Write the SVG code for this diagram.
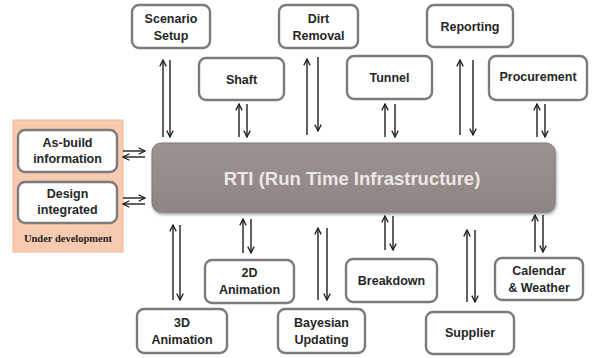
<svg xmlns="http://www.w3.org/2000/svg" width="593" height="358" viewBox="0 0 593 358">
<style>
.box{fill:#fff;stroke:#7b7b7b;stroke-width:2.4}
.t{font-family:"Liberation Sans",Arial,sans-serif;font-weight:bold;font-size:12.5px;fill:#262626;text-anchor:middle}
.ln{stroke:#1e1e1e;stroke-width:1.4;fill:none}
</style>
<defs>
<marker id="ah" viewBox="0 0 10 10" refX="9" refY="5" markerWidth="8" markerHeight="8" orient="auto" markerUnits="userSpaceOnUse">
<path d="M1,1 L9,5 L1,9" fill="none" stroke="#1e1e1e" stroke-width="1.6"/>
</marker>
<filter id="sh" x="-5%" y="-10%" width="110%" height="130%">
<feDropShadow dx="1" dy="2" stdDeviation="1.5" flood-color="#555" flood-opacity="0.6"/>
</filter>
<linearGradient id="rg" x1="0" y1="0" x2="0" y2="1">
<stop offset="0" stop-color="#9c9291"/>
<stop offset="1" stop-color="#8f8584"/>
</linearGradient>
</defs>
<rect x="0" y="0" width="593" height="358" fill="#fff"/>

<g id="under-development">
<rect x="13" y="120" width="110" height="132" fill="#f8cbb0" stroke="#f2b48f" stroke-width="1"/>
<text x="68" y="242" style="font-family:'Liberation Serif',serif;font-weight:bold;font-size:10.5px;fill:#222;text-anchor:middle">Under development</text>
</g>
<g id="as-build"><rect class="box" x="18" y="130" width="99" height="42" rx="7"/><text class="t" x="67.5" y="147">As-build</text><text class="t" x="67.5" y="163">information</text></g>
<g id="design"><rect class="box" x="18" y="182" width="99" height="41" rx="7"/><text class="t" x="67.5" y="198">Design</text><text class="t" x="67.5" y="214">integrated</text></g>

<g id="rti">
<rect x="152" y="143" width="403" height="69" rx="9" fill="url(#rg)" stroke="#837978" stroke-width="1" filter="url(#sh)"/>
<text x="352" y="185" style="font-family:'Liberation Sans',Arial,sans-serif;font-weight:bold;font-size:18.5px;fill:#ece8e6;text-anchor:middle">RTI (Run Time Infrastructure)</text>
</g>

<g id="scenario"><rect class="box" x="132" y="5" width="78" height="43" rx="7"/><text class="t" x="171" y="23">Scenario</text><text class="t" x="171" y="40">Setup</text></g>
<g id="dirt"><rect class="box" x="279" y="5" width="79" height="43" rx="7"/><text class="t" x="318.5" y="23">Dirt</text><text class="t" x="318.5" y="40">Removal</text></g>
<g id="reporting"><rect class="box" x="427" y="5" width="86" height="42" rx="7"/><text class="t" x="470" y="31">Reporting</text></g>
<g id="shaft"><rect class="box" x="199" y="58" width="85" height="42" rx="7"/><text class="t" x="241.5" y="84">Shaft</text></g>
<g id="tunnel"><rect class="box" x="347" y="56" width="85" height="43" rx="7"/><text class="t" x="389.5" y="82">Tunnel</text></g>
<g id="procurement"><rect class="box" x="489" y="56" width="98" height="44" rx="7"/><text class="t" x="538" y="81">Procurement</text></g>

<g id="anim2d"><rect class="box" x="205" y="260" width="89" height="43" rx="7"/><text class="t" x="249.5" y="277">2D</text><text class="t" x="249.5" y="294">Animation</text></g>
<g id="breakdown"><rect class="box" x="346" y="259" width="91" height="43" rx="7"/><text class="t" x="391.5" y="285">Breakdown</text></g>
<g id="calendar"><rect class="box" x="495" y="258" width="88" height="42" rx="7"/><text class="t" x="539" y="275">Calendar</text><text class="t" x="539" y="292">&amp; Weather</text></g>
<g id="anim3d"><rect class="box" x="137" y="309" width="90" height="44" rx="7"/><text class="t" x="182" y="327">3D</text><text class="t" x="182" y="344">Animation</text></g>
<g id="bayesian"><rect class="box" x="278" y="309" width="87" height="44" rx="7"/><text class="t" x="321.5" y="327">Bayesian</text><text class="t" x="321.5" y="344">Updating</text></g>
<g id="supplier"><rect class="box" x="426" y="312" width="88" height="42" rx="7"/><text class="t" x="470" y="337">Supplier</text></g>

<g id="connectors">
<path class="ln" d="M123,151 H145" marker-end="url(#ah)"/>
<path class="ln" d="M145,157 H123" marker-end="url(#ah)"/>
<path class="ln" d="M123,198 H145" marker-end="url(#ah)"/>
<path class="ln" d="M145,204 H123" marker-end="url(#ah)"/>
<path class="ln" d="M163,137 V60" marker-end="url(#ah)"/>
<path class="ln" d="M170,60 V137" marker-end="url(#ah)"/>
<path class="ln" d="M239,137 V104" marker-end="url(#ah)"/>
<path class="ln" d="M247,104 V137" marker-end="url(#ah)"/>
<path class="ln" d="M307,135 V59" marker-end="url(#ah)"/>
<path class="ln" d="M318,57 V131" marker-end="url(#ah)"/>
<path class="ln" d="M385,137 V104" marker-end="url(#ah)"/>
<path class="ln" d="M395,104 V137" marker-end="url(#ah)"/>
<path class="ln" d="M460,135 V60" marker-end="url(#ah)"/>
<path class="ln" d="M473,60 V135" marker-end="url(#ah)"/>
<path class="ln" d="M537,137 V104" marker-end="url(#ah)"/>
<path class="ln" d="M545,104 V137" marker-end="url(#ah)"/>
<path class="ln" d="M173,300 V225" marker-end="url(#ah)"/>
<path class="ln" d="M180,225 V300" marker-end="url(#ah)"/>
<path class="ln" d="M243,253 V219" marker-end="url(#ah)"/>
<path class="ln" d="M251,219 V253" marker-end="url(#ah)"/>
<path class="ln" d="M318,300 V228" marker-end="url(#ah)"/>
<path class="ln" d="M327,228 V300" marker-end="url(#ah)"/>
<path class="ln" d="M385,250 V216" marker-end="url(#ah)"/>
<path class="ln" d="M393,216 V250" marker-end="url(#ah)"/>
<path class="ln" d="M467,302 V230" marker-end="url(#ah)"/>
<path class="ln" d="M475,230 V302" marker-end="url(#ah)"/>
<path class="ln" d="M535,252 V215" marker-end="url(#ah)"/>
<path class="ln" d="M543,215 V252" marker-end="url(#ah)"/>
</g>
</svg>
